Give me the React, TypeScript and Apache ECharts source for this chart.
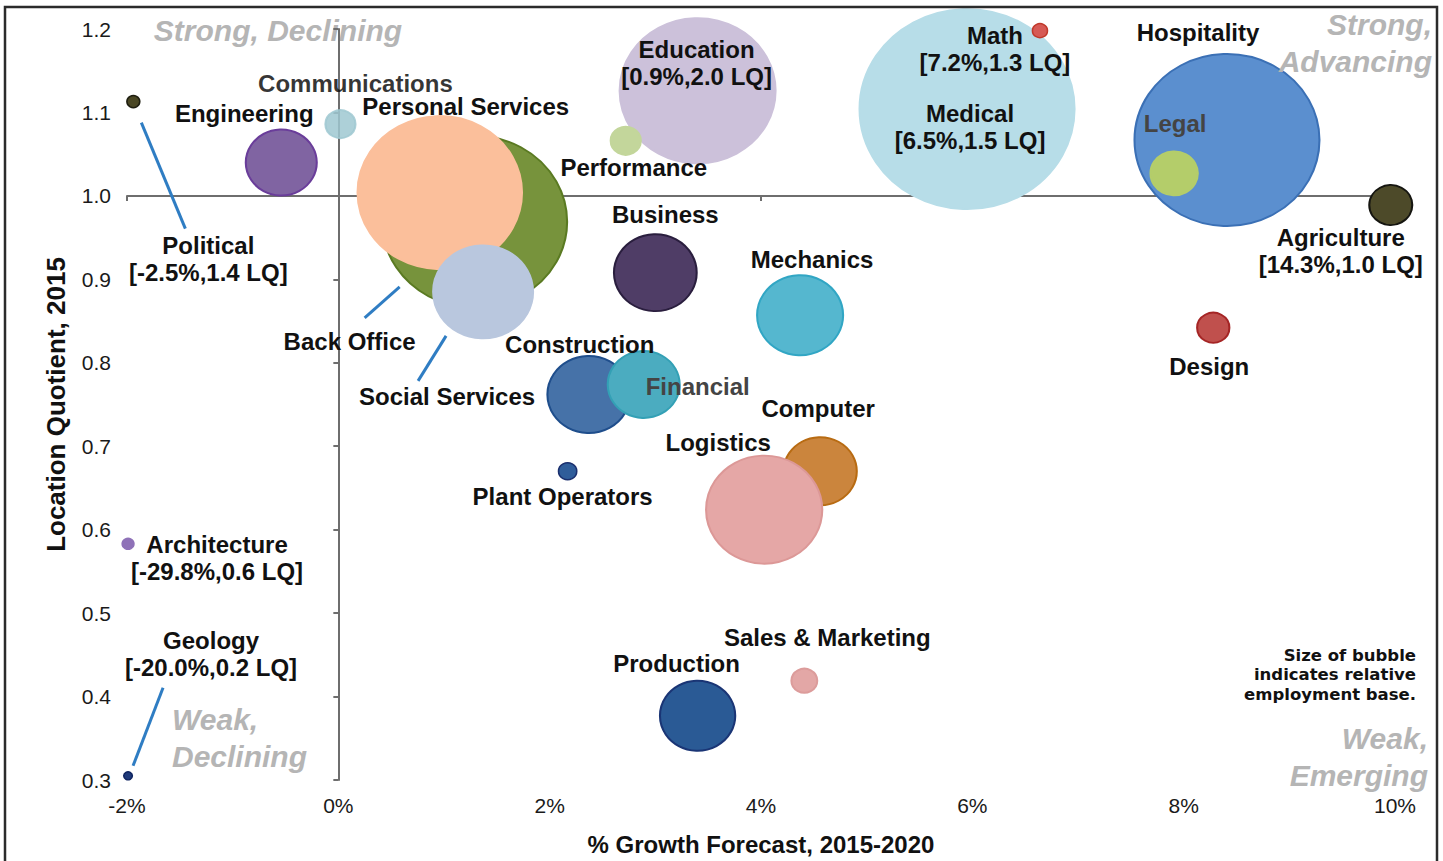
import React, { useEffect, useRef } from "react";
import * as echarts from "echarts";

// ---------- DATA ----------
const industries = [
  "Political", "Engineering", "Communications", "Back Office", "Personal Services",
  "Social Services", "Education", "Performance", "Medical", "Math",
  "Hospitality", "Legal", "Agriculture", "Business", "Mechanics",
  "Design", "Construction", "Financial", "Plant Operators", "Computer",
  "Logistics", "Architecture", "Geology", "Production", "Sales & Marketing",
];
// % growth forecast 2015-2020 (x)
const growth = [
  -1.94, -0.54, 0.02, 1.29, 0.96,
  1.37, 3.4, 2.72, 5.95, 6.64,
  8.41, 7.91, 9.96, 3.0, 4.37,
  8.28, 2.37, 2.89, 2.17, 4.56,
  4.03, -1.99, -1.99, 3.4, 4.41,
];
// Location quotient 2015 (y)
const lq = [
  1.113, 1.04, 1.086, 0.969, 1.004,
  0.885, 1.126, 1.066, 1.104, 1.198,
  1.067, 1.027, 0.989, 0.908, 0.857,
  0.842, 0.762, 0.774, 0.67, 0.67,
  0.624, 0.583, 0.305, 0.377, 0.419,
];
// relative employment base (bubble area)
const employment = [
  0.36, 10.9, 1.96, 74, 58.5,
  21.6, 52.6, 1.96, 100, 0.49,
  74, 4.84, 4.0, 14.8, 16,
  2.25, 14.8, 11.2, 0.72, 11.6,
  29.2, 0.3, 0.16, 12.25, 1.44,
];
// actual values for off-scale industries
const tags = [
  "[-2.5%,1.4 LQ]", "", "", "", "",
  "", "[0.9%,2.0 LQ]", "", "[6.5%,1.5 LQ]", "[7.2%,1.3 LQ]",
  "", "", "[14.3%,1.0 LQ]", "", "",
  "", "", "", "", "",
  "", "[-29.8%,0.6 LQ]", "[-20.0%,0.2 LQ]", "", "",
];
const xTicks = { min: -2, max: 10, step: 2 };
const yTicks = { min: 0.3, max: 1.2, step: 0.1 };

// ---------- STYLES / LAYOUT ----------
const FONT = "'Liberation Sans', Arial, Helvetica, sans-serif";
const STRETCH = 1.075;
const fills = [
  "#4a4724", "#8064a2", "#9fc8d1", "#77933c", "#fbbf9b",
  "#b9c7de", "#ccc1da", "#c3d69b", "#b7dde8", "#d65a55",
  "#5b8fcf", "#b4cd6a", "#4d4a29", "#4f3d66", "#55b7cf",
  "#c0504d", "#4672a8", "#4bacc0", "#2f5d9a", "#cb853d",
  "#e5a7a6", "#8f72b8", "#1f3a7a", "#2a5a95", "#e3a7a6",
];
const strokes = [
  "#1e1e10", "#6a3d9a", "#9fc8d1", "#5a7a22", "#fbbf9b",
  "#b9c7de", "#ccc1da", "#c3d69b", "#b7dde8", "#c0392b",
  "#3b70b5", "#b4cd6a", "#151510", "#2a1e3e", "#31a6c4",
  "#a52525", "#1f4e8c", "#33a0b5", "#1a2f6e", "#b86b12",
  "#dc9897", "#8f72b8", "#0f2460", "#1a3575", "#dc9c9b",
];
const opacities: Record<string, number> = { Communications: 0.85 };
const labelOffsets: [number, number][] = [
  [75, 157], [-37, -49], [15, -41], [-125, 120], [26, -86],
  [-36, 105], [-1, -28], [8, 27], [3, 18], [-45, 18],
  [-29, -107], [1, -50], [-50, 46], [10, -58], [12, -56],
  [-4, 39], [-9, -50], [54, 2], [-5, 25], [-2, -63],
  [-46, -67], [89, 14], [83, -122], [-21, -52], [23, -43],
];
const greyLabels = ["Legal", "Financial"];
// leader lines: [industry, dx1, dy1, dx2, dy2] in px relative to bubble centre
const leaders: [string, number, number, number, number][] = [
  ["Political", 8, 21, 52, 127],
  ["Back Office", -110, 96, -75, 65],
  ["Social Services", -65, 89, -37, 44],
  ["Geology", 5, -10, 35, -88],
];
const noteLines = ["Size of bubble", "indicates relative", "employment base."];

export default function App() {
  const ref = useRef<HTMLDivElement>(null);
  useEffect(() => {
    if (!ref.current) return;
    const chart = echarts.init(ref.current, undefined, { renderer: "svg" });

    const data = industries.map((name, i) => ({
      name,
      value: [growth[i], lq[i], employment[i]],
      itemStyle: {
        color: fills[i],
        borderColor: strokes[i],
        borderWidth: employment[i] < 1 ? 1.5 : 2,
        opacity: opacities[name] ?? 1,
      },
      label: {
        offset: labelOffsets[i],
        color: greyLabels.includes(name) ? "#444" : "#111",
      },
    }));

    const axisLineStyle = { color: "#6e6e6e", width: 2 };
    const tickLabel = { fontSize: 21, color: "#1a1a1a", fontFamily: FONT };

    const option: any = {
      animation: false,
      backgroundColor: "#ffffff",
      grid: { left: 127, right: 48, top: 29, bottom: 77, containLabel: false },
      xAxis: [
        {
          type: "value", min: xTicks.min, max: xTicks.max, interval: xTicks.step,
          position: "bottom",
          axisLine: { show: false, onZero: false },
          axisTick: { show: false },
          splitLine: { show: false },
          axisLabel: { ...tickLabel, margin: 15, formatter: (v: number) => `${v}%` },
          name: "% Growth Forecast, 2015-2020",
          nameLocation: "middle",
          nameGap: 52,
          nameTextStyle: { fontSize: 24, fontWeight: "bold", color: "#111", fontFamily: FONT },
        },
        {
          type: "value", min: xTicks.min, max: xTicks.max, interval: xTicks.step,
          position: "bottom",
          axisLine: { show: true, onZero: true, onZeroAxisIndex: 2, lineStyle: axisLineStyle },
          axisTick: { show: true, length: 5, lineStyle: axisLineStyle },
          axisLabel: { show: false },
          splitLine: { show: false },
        },
      ],
      yAxis: [
        {
          type: "value", min: yTicks.min, max: yTicks.max, interval: yTicks.step,
          position: "left",
          axisLine: { show: false, onZero: false },
          axisTick: { show: false },
          splitLine: { show: false },
          axisLabel: { ...tickLabel, margin: 16, formatter: (v: number) => v.toFixed(1) },
          name: "Location Quotient, 2015",
          nameLocation: "middle",
          nameGap: 58,
          nameTextStyle: { fontSize: 26, fontWeight: "bold", color: "#111", fontFamily: FONT },
        },
        {
          type: "value", min: yTicks.min, max: yTicks.max, interval: yTicks.step,
          position: "left",
          axisLine: { show: true, onZero: true, onZeroAxisIndex: 0, lineStyle: axisLineStyle },
          axisTick: { show: true, length: 5, lineStyle: axisLineStyle },
          axisLabel: { show: false },
          splitLine: { show: false },
        },
        {
          // helper axis whose zero sits at LQ = 1.0, carrying the horizontal divider
          type: "value", min: yTicks.min - 1, max: yTicks.max - 1,
          position: "right",
          show: false,
          axisLine: { onZero: false },
          splitLine: { show: false },
        },
      ],
      series: [
        {
          type: "scatter",
          xAxisIndex: 0,
          yAxisIndex: 0,
          data,
          symbol: "circle",
          symbolSize: (val: number[]) => {
            const d = 20 * Math.sqrt(val[2]);
            return [d * STRETCH, d];
          },
          emphasis: { disabled: true },
          label: {
            show: true,
            position: "inside",
            align: "center",
            verticalAlign: "middle",
            fontSize: 24,
            fontWeight: "bold",
            fontFamily: FONT,
            lineHeight: 27,
            formatter: (p: any) => (tags[p.dataIndex] ? `${p.name}\n${tags[p.dataIndex]}` : p.name),
          },
        },
      ],
    };
    chart.setOption(option);

    const quad = (text: string, x: number, y: number, align: string, z: number) => ({
      type: "text",
      z,
      style: {
        text, x, y,
        textAlign: align,
        textVerticalAlign: "middle",
        fill: "#b5b5b5",
        font: `italic bold 30px ${FONT}`,
        lineHeight: 37,
      },
    });

    const leaderGraphics = leaders.map(([name, dx1, dy1, dx2, dy2]) => {
      const i = industries.indexOf(name);
      const p = chart.convertToPixel({ seriesIndex: 0 }, [growth[i], lq[i]]) as number[];
      return {
        type: "line",
        z: 5,
        shape: { x1: p[0] + dx1, y1: p[1] + dy1, x2: p[0] + dx2, y2: p[1] + dy2 },
        style: { stroke: "#2f7dc3", lineWidth: 3 },
      };
    });

    const noteGraphics = noteLines.map((t, k) => ({
      type: "text",
      z: 100,
      style: {
        text: t,
        x: 1416, y: 655 + k * 19.5,
        textAlign: "right",
        textVerticalAlign: "middle",
        fill: "#111",
        font: `bold 16.5px 'DejaVu Sans', ${FONT}`,
      },
    }));

    chart.setOption({
      graphic: [
        {
          type: "rect",
          z: 100,
          shape: { x: 5, y: 7, width: 1432, height: 870 },
          style: { fill: "none", stroke: "#2b2b2b", lineWidth: 2.5 },
        },
        quad("Strong, Declining", 278, 30, "center", -10),
        quad("Strong,\nAdvancing", 1432, 43, "right", 100),
        quad("Weak,\nDeclining", 172, 738, "left", 100),
        quad("Weak,\nEmerging", 1428, 757, "right", 100),
        ...noteGraphics,
        ...leaderGraphics,
      ],
    });

    return () => chart.dispose();
  }, []);

  return (
    <div
      ref={ref}
      style={{ position: "fixed", left: 0, top: 0, width: 1443, height: 861, background: "#fff" }}
    />
  );
}
